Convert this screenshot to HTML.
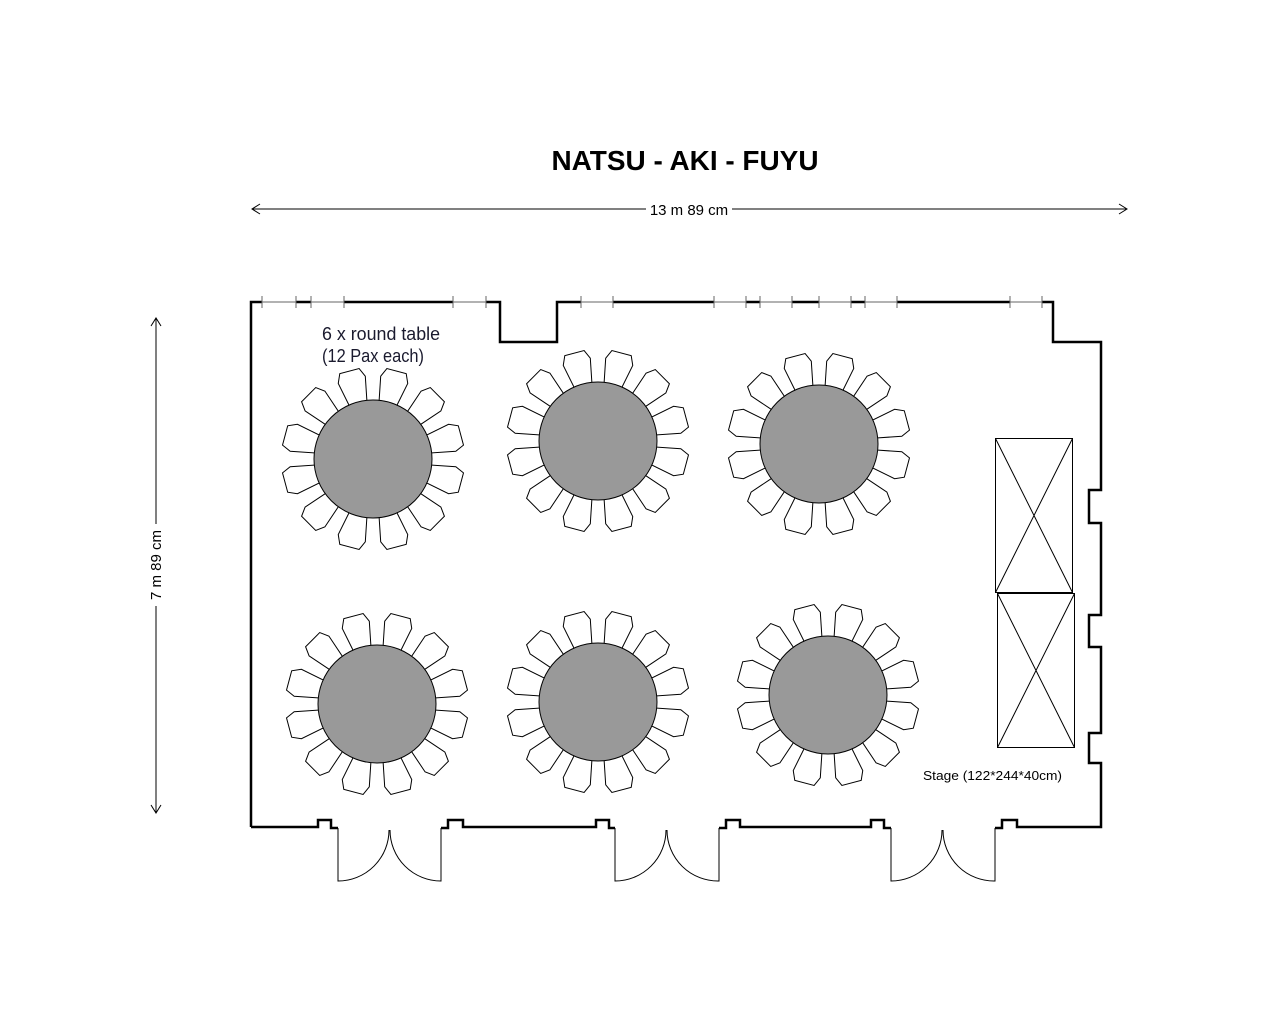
<!DOCTYPE html>
<html><head><meta charset="utf-8"><style>html,body{margin:0;padding:0;background:#fff;}svg{display:block}</style></head>
<body>
<svg width="1280" height="1024" viewBox="0 0 1280 1024" xmlns="http://www.w3.org/2000/svg">
<defs>
<polygon id="ch" points="-9,-57 9,-57 14,-82 10,-91 -10,-91 -14,-82" fill="#fff" stroke="#000" stroke-width="1"/>
<g id="tb">
<use href="#ch" transform="rotate(15)"/><use href="#ch" transform="rotate(45)"/><use href="#ch" transform="rotate(75)"/>
<use href="#ch" transform="rotate(105)"/><use href="#ch" transform="rotate(135)"/><use href="#ch" transform="rotate(165)"/>
<use href="#ch" transform="rotate(195)"/><use href="#ch" transform="rotate(225)"/><use href="#ch" transform="rotate(255)"/>
<use href="#ch" transform="rotate(285)"/><use href="#ch" transform="rotate(315)"/><use href="#ch" transform="rotate(345)"/>
<circle r="59" fill="#999" stroke="#000" stroke-width="1"/>
</g>
</defs>

<text x="685" y="170" text-anchor="middle" font-family="Liberation Sans, sans-serif" font-weight="bold" font-size="28" textLength="267" lengthAdjust="spacingAndGlyphs">NATSU - AKI - FUYU</text>

<line x1="252" y1="209" x2="646" y2="209" stroke="#000"/>
<path d="M260,204 L252,209 L260,214" fill="none" stroke="#000"/>
<line x1="732" y1="209" x2="1127" y2="209" stroke="#000"/>
<path d="M1119,204 L1127,209 L1119,214" fill="none" stroke="#000"/>
<text x="689" y="215" text-anchor="middle" font-family="Liberation Sans, sans-serif" font-size="15">13 m 89 cm</text>

<line x1="156" y1="318" x2="156" y2="524" stroke="#000"/>
<path d="M151,326 L156,318 L161,326" fill="none" stroke="#000"/>
<line x1="156" y1="606" x2="156" y2="813" stroke="#000"/>
<path d="M151,805 L156,813 L161,805" fill="none" stroke="#000"/>
<text x="0" y="0" transform="translate(161,565) rotate(-90)" text-anchor="middle" font-family="Liberation Sans, sans-serif" font-size="15" fill="#000">7 m 89 cm</text>

<g fill="none" stroke="#000" stroke-width="2.5" stroke-linejoin="miter">
<path d="M251,827 L251,302 L262,302 M296,302 L311,302 M344,302 L453,302 M486,302 L500,302 L500,342 L557,342 L557,302 L581,302 M613,302 L714,302 M746,302 L760,302 M792,302 L819,302 M851,302 L865,302 M897,302 L1010,302 M1042,302 L1053,302 L1053,342 L1101,342 L1101,490 L1089,490 L1089,523 L1101,523 L1101,615 L1089,615 L1089,647 L1101,647 L1101,733 L1089,733 L1089,763 L1101,763 L1101,827 L1017,827 L1017,820 L1002,820 L1002,828 L995,828"/>
<path d="M251,827 L318,827 L318,820 L331,820 L331,828 L338,828"/>
<path d="M441,828 L448,828 L448,820 L463,820 L463,827 L596,827 L596,820 L609,820 L609,828 L615,828"/>
<path d="M719,828 L726,828 L726,820 L740,820 L740,827 L871,827 L871,820 L884,820 L884,828 L891,828"/>
</g>
<g stroke="#666" stroke-width="1" fill="none">
<path d="M262,302 H296 M311,302 H344 M453,302 H486 M581,302 H613 M714,302 H746 M760,302 H792 M819,302 H851 M865,302 H897 M1010,302 H1042"/>
<path d="M262,296 V308 M296,296 V308 M311,296 V308 M344,296 V308 M453,296 V308 M486,296 V308 M581,296 V308 M613,296 V308 M714,296 V308 M746,296 V308 M760,296 V308 M792,296 V308 M819,296 V308 M851,296 V308 M865,296 V308 M897,296 V308 M1010,296 V308 M1042,296 V308"/>
</g>
<g fill="none" stroke="#000" stroke-width="1">
<path d="M338,828 V881 A51,51 0 0 0 389,830 M441,828 V881 A51,51 0 0 1 390,830"/>
<path d="M615,828 V881 A51,51 0 0 0 666,830 M719,828 V881 A51,51 0 0 1 667,830"/>
<path d="M891,828 V881 A51,51 0 0 0 942,830 M995,828 V881 A51,51 0 0 1 943,830"/>
</g>

<use href="#tb" transform="translate(373,459)"/>
<use href="#tb" transform="translate(598,441)"/>
<use href="#tb" transform="translate(819,444)"/>
<use href="#tb" transform="translate(377,704)"/>
<use href="#tb" transform="translate(598,702)"/>
<use href="#tb" transform="translate(828,695)"/>

<text font-family="Liberation Sans, sans-serif" font-size="18" fill="#1a1a2e"><tspan x="322" y="340" textLength="118" lengthAdjust="spacingAndGlyphs">6 x round table</tspan><tspan x="322" y="362" textLength="102" lengthAdjust="spacingAndGlyphs">(12 Pax each)</tspan></text>

<g fill="none" stroke="#000" stroke-width="1">
<rect x="995.5" y="438.5" width="77" height="154"/>
<path d="M995.5,438.5 L1072.5,592.5 M1072.5,438.5 L995.5,592.5"/>
<rect x="997.5" y="593.5" width="77" height="154"/>
<path d="M997.5,593.5 L1074.5,747.5 M1074.5,593.5 L997.5,747.5"/>
</g>
<text x="923" y="780" font-family="Liberation Sans, sans-serif" font-size="13" textLength="139" lengthAdjust="spacingAndGlyphs">Stage (122*244*40cm)</text>
</svg>
</body></html>
